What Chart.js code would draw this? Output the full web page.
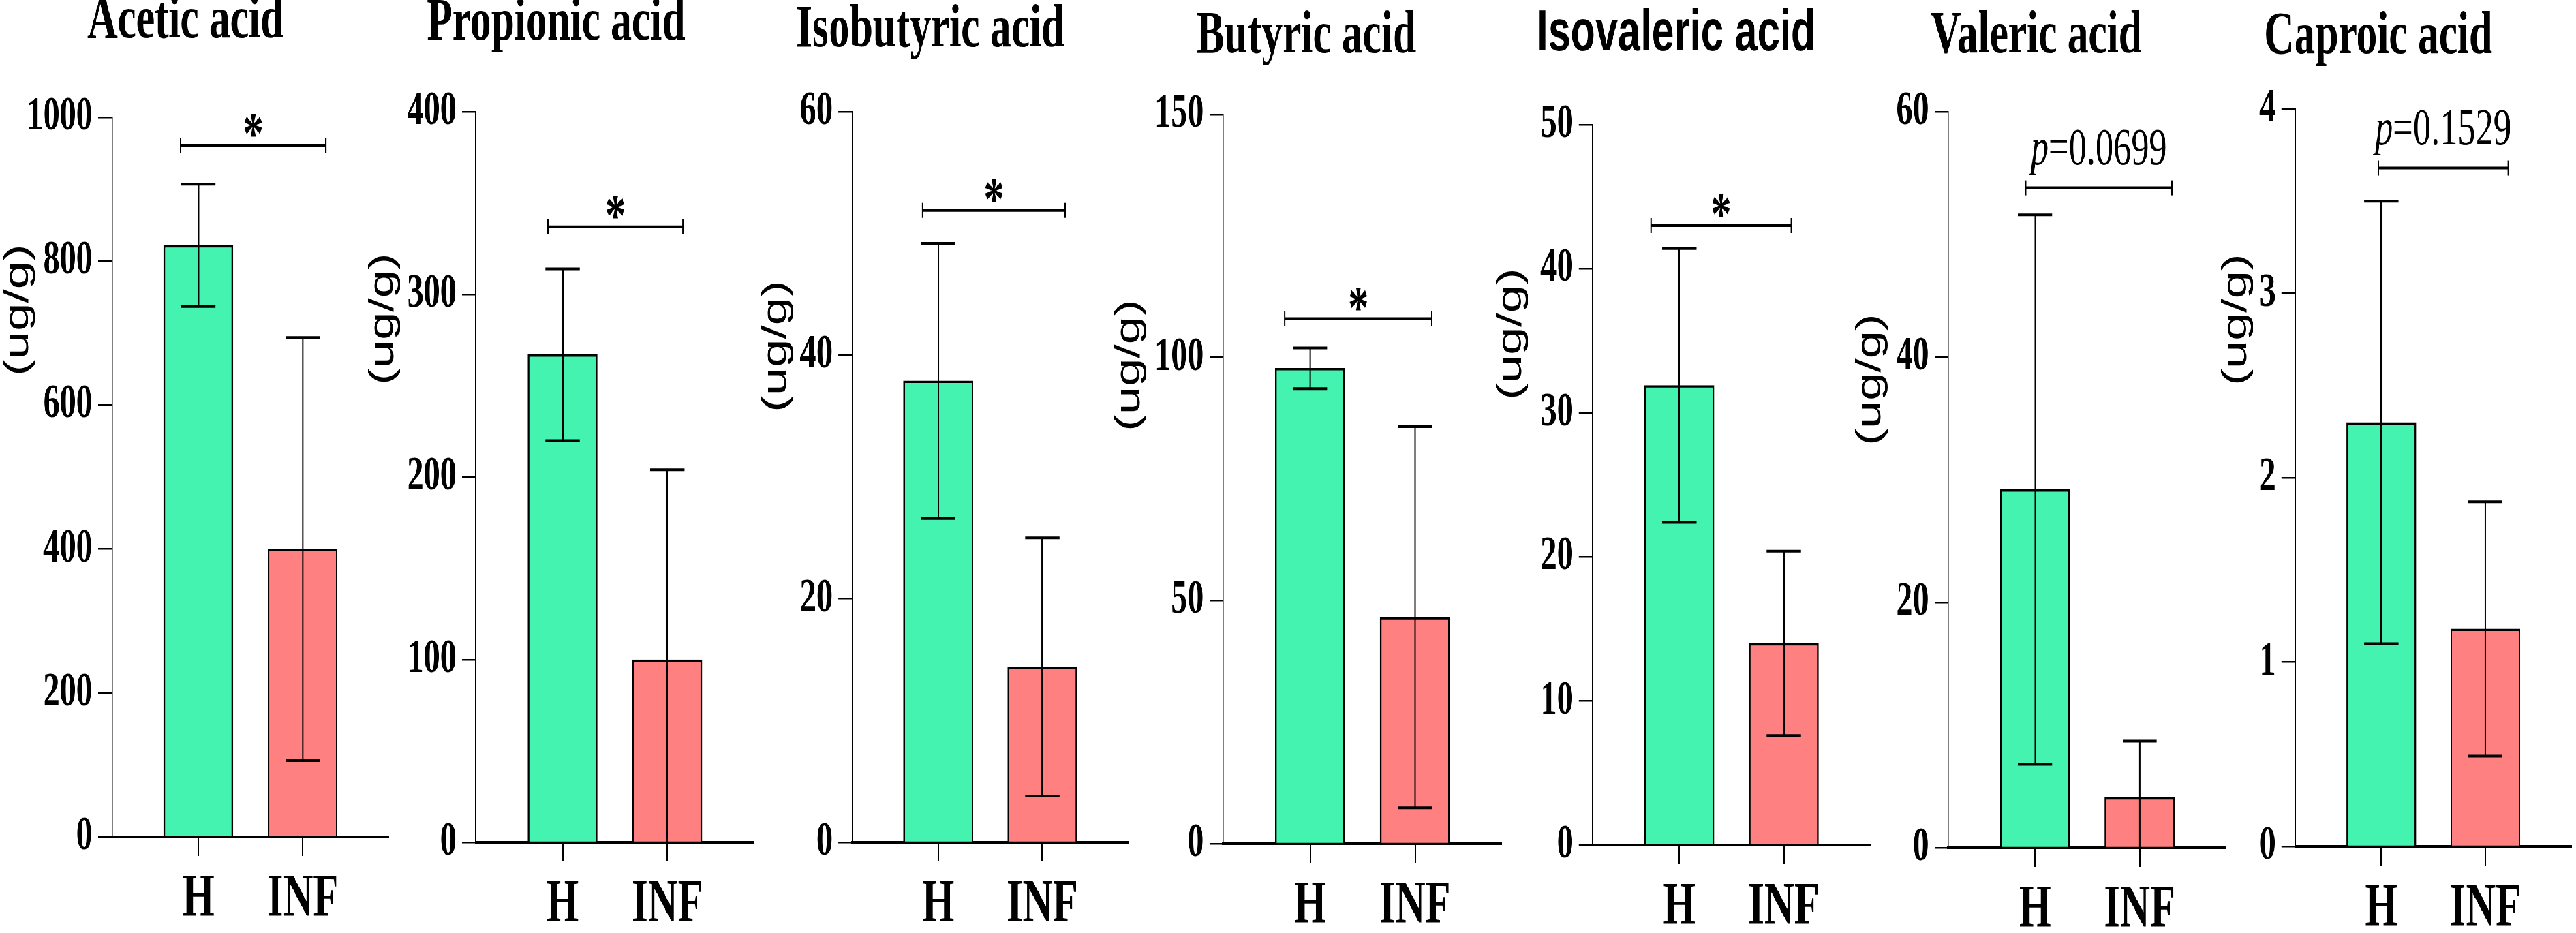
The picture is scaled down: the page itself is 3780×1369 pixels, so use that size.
<!DOCTYPE html>
<html lang="en">
<head>
    <meta charset="UTF-8">
    <title>Short-chain fatty acids: H vs INF</title>
    <style>
        html, body { margin: 0; padding: 0; background: #fff; overflow: hidden; }
        /* the original figure is squeezed horizontally, so everything is drawn wide and scaled back */
        #fig { position: absolute; left: 0; top: 0; width: 5478px; height: 1369px; transform: scaleX(0.69); transform-origin: 0 0; }
        #fig canvas { position: absolute; top: 0; }
    </style>
</head>
<body>
    <div id="fig"></div>
    <script src="https://cdn.jsdelivr.net/npm/chart.js"></script>
    <script>
        // Data (mean and SD per group)
        const titles = ['Acetic acid', 'Propionic acid', 'Isobutyric acid', 'Butyric acid', 'Isovaleric acid', 'Valeric acid', 'Caproic acid'];
        const groups = ['H', 'INF'];
        const meanH = [822, 267, 37.9, 97.8, 31.9, 29.2, 2.30];
        const sdH = [85, 47, 11.3, 4.2, 9.5, 22.4, 1.20];
        const meanINF = [400, 100, 14.4, 46.6, 14.0, 4.1, 1.18];
        const sdINF = [294, 104, 10.6, 39.2, 6.4, 4.6, 0.69];
        const yMax = [1000, 400, 60, 150, 50, 60, 4];
        const yStep = [200, 100, 20, 50, 10, 20, 1];
        const sigLevel = [961, 337, 51.9, 108, 43, 53.8, 3.68];
        const sigText = ['*', '*', '*', '*', '*', 'p=0.0699', 'p=0.1529'];
        const unitLabel = '(ug/g)';

        // Panel layout on the picture (px)
        const K = 0.69;
        const FIG_H = 1369;
        const axisX = [164, 698, 1250, 1795, 2337, 2859, 3368];
        const endX = [571, 1107, 1656, 2204, 2745, 3267, 3774];
        const titleX = [272, 816, 1365, 1917, 2460, 2988, 3490];
        const titleY = [32, 35, 45, 54, 50, 54, 55];
        const topY = [172, 164, 164, 168, 183, 164, 160];
        const baseY = [1228, 1236, 1236, 1238, 1240, 1244, 1242];
        const unitDX = [-137, -135, -111, -137, -119, -114, -86];
        const unitY = [455, 468, 508, 536, 490, 557, 469];
        // bracket ends in x units (H = 0, INF = 1)
        const brFrom = [-0.17, -0.14, -0.15, -0.24, -0.27, -0.09, -0.03];
        const brTo = [1.22, 1.15, 1.22, 1.16, 1.07, 1.31, 1.22];

        const GREEN = '#45F3B0';
        const RED = '#FF8080';
        const SERIF = '"Liberation Serif", "Times New Roman", serif';
        const SANS = '"Liberation Sans", Arial, sans-serif';

        const fig = document.getElementById('fig');

        function line(ctx, x1, y1, x2, y2) {
            ctx.beginPath();
            ctx.moveTo(x1, y1);
            ctx.lineTo(x2, y2);
            ctx.stroke();
        }

        function makePanel(i) {
            const w = 2 * (endX[i] - titleX[i]) / K;
            const left = endX[i] / K - w;
            const yAxisW = axisX[i] / K - left;

            const cv = document.createElement('canvas');
            cv.width = Math.round(w);
            cv.height = FIG_H;
            cv.style.left = left + 'px';
            cv.style.width = Math.round(w) + 'px';
            cv.style.height = FIG_H + 'px';
            fig.appendChild(cv);

            const titleFont = i === 4
                ? { family: SANS, size: 86, weight: 'bold', lineHeight: 0.7 }
                : { family: SERIF, size: 89, weight: 'bold', lineHeight: 0.7 };
            const th = titleFont.size * titleFont.lineHeight;

            // error bars, significance bracket and unit label
            const extras = {
                id: 'extras' + i,
                afterDatasetsDraw(chart) {
                    const { ctx, chartArea } = chart;
                    const x = chart.scales.x;
                    const y = chart.scales.y;
                    const cap = 25 / K;
                    ctx.save();
                    ctx.strokeStyle = '#000';
                    ctx.fillStyle = '#000';

                    [[meanH[i], sdH[i]], [meanINF[i], sdINF[i]]].forEach(([m, s], k) => {
                        const px = x.getPixelForValue(k);
                        const top = y.getPixelForValue(m + s);
                        const low = m - s;
                        const bot = y.getPixelForValue(Math.max(low, 0));
                        ctx.lineWidth = 3;
                        line(ctx, px, top, px, bot);
                        ctx.lineWidth = 4;
                        line(ctx, px - cap, top, px + cap, top);
                        if (low > 0) line(ctx, px - cap, bot, px + cap, bot);
                    });

                    const by = y.getPixelForValue(sigLevel[i]);
                    const bx1 = x.getPixelForValue(brFrom[i]);
                    const bx2 = x.getPixelForValue(brTo[i]);
                    ctx.lineWidth = 4;
                    line(ctx, bx1, by, bx2, by);
                    ctx.lineWidth = 3;
                    line(ctx, bx1, by - 11, bx1, by + 11);
                    line(ctx, bx2, by - 11, bx2, by + 11);

                    const cx = (bx1 + bx2) / 2;
                    ctx.textBaseline = 'alphabetic';
                    if (sigText[i] === '*') {
                        ctx.font = 'bold 88px ' + SERIF;
                        ctx.textAlign = 'center';
                        ctx.fillText('*', cx, by + 12);
                    } else {
                        const p = sigText[i].slice(0, 1);
                        const rest = sigText[i].slice(1);
                        ctx.textAlign = 'left';
                        ctx.font = 'italic 76px ' + SERIF;
                        const wp = ctx.measureText(p).width;
                        ctx.font = '76px ' + SERIF;
                        const wr = ctx.measureText(rest).width;
                        const sx = cx - (wp + wr) / 2;
                        ctx.font = 'italic 76px ' + SERIF;
                        ctx.fillText(p, sx, by - 35);
                        ctx.font = '76px ' + SERIF;
                        ctx.fillText(rest, sx + wp, by - 35);
                    }

                    ctx.translate(chartArea.left + unitDX[i] / K, unitY[i]);
                    ctx.rotate(-Math.PI / 2);
                    ctx.font = '74px ' + SANS;
                    ctx.textAlign = 'center';
                    ctx.textBaseline = 'middle';
                    ctx.fillText(unitLabel, 0, 0);
                    ctx.restore();
                }
            };

            new Chart(cv, {
                type: 'bar',
                data: {
                    datasets: [{
                        data: [{ x: 0, y: meanH[i] }, { x: 1, y: meanINF[i] }],
                        backgroundColor: [GREEN, RED],
                        borderColor: '#000',
                        borderWidth: 3.5,
                        barThickness: 102 / K
                    }]
                },
                options: {
                    responsive: false,
                    animation: false,
                    devicePixelRatio: 1,
                    layout: { padding: 0 },
                    plugins: {
                        legend: { display: false },
                        tooltip: { enabled: false },
                        title: {
                            display: true,
                            text: titles[i],
                            color: '#000',
                            font: titleFont,
                            padding: { top: titleY[i] - th / 2, bottom: topY[i] - titleY[i] - th / 2 }
                        }
                    },
                    scales: {
                        x: {
                            type: 'linear',
                            offset: false,
                            min: -0.83,
                            max: 1.83,
                            afterBuildTicks: s => { s.ticks = [{ value: 0 }, { value: 1 }]; },
                            afterFit: s => { s.height = FIG_H - baseY[i]; },
                            ticks: {
                                callback: v => groups[v],
                                color: '#000',
                                font: { family: SERIF, size: 88, weight: 'bold', lineHeight: 1 },
                                padding: 20,
                                autoSkip: false,
                                maxRotation: 0
                            },
                            grid: { offset: false, drawOnChartArea: false, drawTicks: true, tickLength: 28, color: '#000', lineWidth: 3 },
                            border: { display: true, color: '#000', width: 4 }
                        },
                        y: {
                            min: 0,
                            max: yMax[i],
                            afterFit: s => { s.width = yAxisW; },
                            ticks: {
                                stepSize: yStep[i],
                                callback: v => String(v),
                                color: '#000',
                                font: { family: SERIF, size: 70, weight: 'bold' },
                                padding: 12
                            },
                            grid: { drawOnChartArea: false, tickLength: 29, color: '#000', lineWidth: 2.5 },
                            border: { display: true, color: '#000', width: 2.5 }
                        }
                    }
                },
                plugins: [extras]
            });
        }

        titles.forEach((t, i) => makePanel(i));
    </script>
</body>
</html>
